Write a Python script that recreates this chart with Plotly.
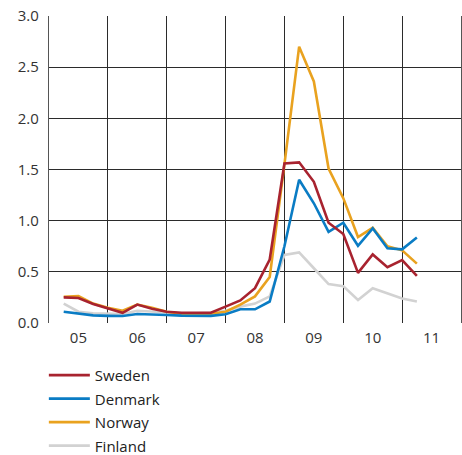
import plotly.graph_objects as go

# quarterly observations, 2005Q1 .. 2011Q1 (plotted at quarter end)
quarters = [2005.25 + 0.25 * i for i in range(25)]

sweden = [0.25, 0.245, 0.185, 0.14, 0.10, 0.18, 0.14, 0.11, 0.10, 0.10, 0.10, 0.16, 0.22,
          0.34, 0.62, 1.56, 1.57, 1.38, 0.98, 0.87, 0.49, 0.67, 0.545, 0.615, 0.46]
denmark = [0.11, 0.095, 0.075, 0.07, 0.068, 0.088, 0.08, 0.078, 0.072, 0.07, 0.07, 0.085, 0.135,
           0.134, 0.21, 0.75, 1.40, 1.17, 0.89, 0.98, 0.755, 0.925, 0.73, 0.72, 0.835]
norway = [0.257, 0.264, 0.19, 0.15, 0.12, 0.18, 0.15, 0.11, 0.09, 0.088, 0.09, 0.11, 0.18,
          0.26, 0.45, 1.55, 2.70, 2.36, 1.51, 1.22, 0.84, 0.93, 0.75, 0.71, 0.58]
finland = [0.19, 0.11, 0.095, 0.09, 0.088, 0.12, 0.11, 0.10, 0.095, 0.095, 0.10, 0.12, 0.16,
           0.19, 0.26, 0.665, 0.69, 0.535, 0.38, 0.36, 0.225, 0.34, 0.29, 0.24, 0.21]

year_labels = ['05', '06', '07', '08', '09', '10', '11']
y_ticks = [0.0, 0.5, 1.0, 1.5, 2.0, 2.5, 3.0]

series = [
    ('Sweden', sweden, '#A8232F'),
    ('Denmark', denmark, '#0A7CC4'),
    ('Norway', norway, '#E9A21F'),
    ('Finland', finland, '#D2D2D2'),
]

fig = go.Figure()

# draw Finland first so it sits underneath, but keep legend order
for order, (name, vals, col) in reversed(list(enumerate(series))):
    fig.add_trace(go.Scatter(
        x=quarters, y=vals, name=name, mode='lines',
        line=dict(color=col, width=2.6),
        legendgroup=name, legendrank=order + 1,
    ))

grid_col = '#2b2b2b'

fig.update_xaxes(
    range=[2005, 2012],
    tickvals=[2005.5 + i for i in range(len(year_labels))],
    ticktext=year_labels,
    showgrid=False, zeroline=False, ticks='', ticklabelstandoff=4,
    minor=dict(tick0=2005, dtick=1, showgrid=True, gridcolor=grid_col, gridwidth=1.4),
    showline=False,
)
fig.update_yaxes(
    range=[0, 3.0],
    tickvals=y_ticks,
    ticktext=[f'{v:.1f}' for v in y_ticks],
    showgrid=True, gridcolor=grid_col, gridwidth=1.4,
    zeroline=False, ticks='', ticklabelstandoff=6,
    showline=True, mirror=True, linecolor='#555555', linewidth=1.4,
)

fig.update_layout(
    width=462, height=455,
    margin=dict(l=49, r=1, t=16, b=132, autoexpand=False),
    plot_bgcolor='white', paper_bgcolor='white',
    font=dict(family='Open Sans', size=15, color='#333333'),
    legend=dict(
        x=-0.0125, y=-0.117, xanchor='left', yanchor='top',
        orientation='v', tracegroupgap=1, itemwidth=41,
        font=dict(size=15, color='#222222'),
        bgcolor='rgba(0,0,0,0)',
    ),
)

# drop the browser's default body margin so the figure sits at the page corner
fig.write_html('out.html', config={'displayModeBar': False},
               post_script="document.body.style.margin='0';")
